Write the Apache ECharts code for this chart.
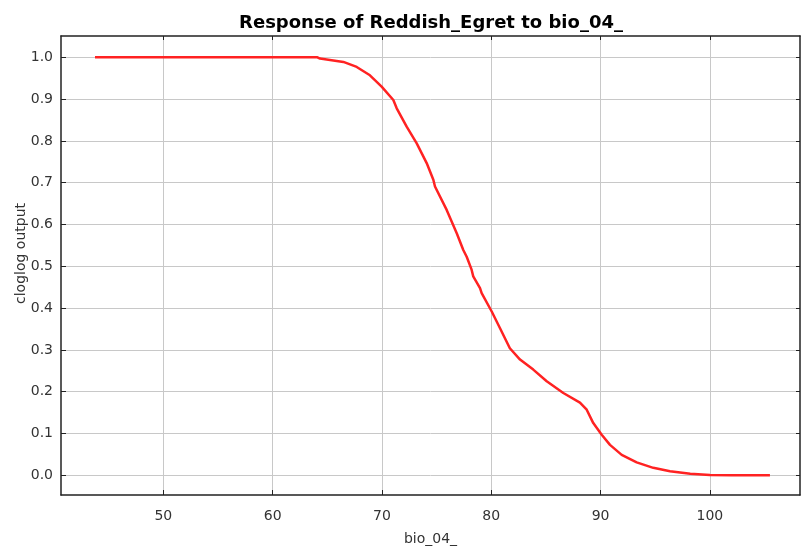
<!DOCTYPE html>
<html><head><meta charset="utf-8">
<script src="https://cdn.jsdelivr.net/npm/echarts@6/dist/echarts.min.js"></script>
<style>html,body{margin:0;padding:0;background:#fff}#c{width:801px;height:548px}</style>
</head><body><div id="c"></div>
<script>
var titleText = "Response of Reddish_Egret to bio_04_";
var xName = "bio_04_";
var yName = "cloglog output";
var xTicks = [50, 60, 70, 80, 90, 100];
var yTicks = [0, 0.1, 0.2, 0.3, 0.4, 0.5, 0.6, 0.7, 0.8, 0.9, 1.0];
var bioX = [43.75, 50, 55, 60, 62.5, 64.1, 64.33, 66.47, 67.69, 68.9, 69.97, 71.04, 71.35, 72.26, 73.18, 74.09, 74.7, 74.85, 75.92, 76.84, 77.44, 77.75, 78.2, 78.35, 78.97, 79.12, 80.04, 80.8, 81.7, 82.63, 83.84, 85.07, 86.59, 88.11, 88.73, 89.33, 90.1, 90.86, 91.93, 93.3, 94.82, 96.35, 98.2, 100, 102, 105.49];
var outY = [1.0, 1.0, 1.0, 1.0, 1.0, 1.0, 0.997, 0.989, 0.977, 0.957, 0.93, 0.898, 0.878, 0.834, 0.794, 0.747, 0.707, 0.691, 0.635, 0.579, 0.539, 0.523, 0.492, 0.476, 0.448, 0.436, 0.392, 0.352, 0.304, 0.277, 0.253, 0.225, 0.197, 0.174, 0.157, 0.125, 0.097, 0.073, 0.049, 0.031, 0.018, 0.010, 0.004, 0.001, 0.0, 0.0];

var pts = bioX.map(function (x, i) { return [x, outY[i]]; });
var fam = "DejaVu Sans";
var xmin = 40.64, xmax = 108.24, ymin = -0.047, ymax = 1.051;
var gridLine = { show: true, lineStyle: { color: '#c8c8c8', width: 1 } };
var axLine = { show: true, onZero: false, lineStyle: { color: '#222', width: 1.5 } };
var chart = echarts.init(document.getElementById('c'));
chart.setOption({
  animation: false,
  title: { text: titleText, left: 426, textAlign: 'center', top: 9,
    textStyle: { fontFamily: fam, fontWeight: 'bold', fontSize: 18, color: '#000' } },
  grid: { left: 61, right: 1, top: 36, bottom: 53, containLabel: false, outerBoundsMode: 'none' },
  xAxis: [{
    type: 'value', position: 'bottom', min: xmin, max: xmax,
    name: xName, nameLocation: 'middle', nameGap: 37, nameMoveOverlap: false,
    nameTextStyle: { fontFamily: fam, fontSize: 14, color: '#333' },
    axisLine: axLine,
    axisTick: { show: true, inside: true, length: 5, customValues: xTicks, lineStyle: { color: '#222' } },
    axisLabel: { customValues: xTicks, margin: 14, fontFamily: fam, fontSize: 14, color: '#333' },
    splitLine: gridLine
  }, {
    type: 'value', position: 'top', min: xmin, max: xmax,
    axisLine: axLine,
    axisTick: { show: true, inside: true, length: 4, customValues: xTicks, lineStyle: { color: '#222' } },
    axisLabel: { show: false, customValues: xTicks },
    splitLine: { show: false }
  }],
  yAxis: [{
    type: 'value', position: 'left', min: ymin, max: ymax,
    name: yName, nameLocation: 'middle', nameGap: 33, nameMoveOverlap: false,
    nameTextStyle: { fontFamily: fam, fontSize: 14, color: '#333', padding: [0, 0, 0, 24] },
    axisLine: axLine,
    axisTick: { show: true, inside: true, length: 5, customValues: yTicks, lineStyle: { color: '#222' } },
    axisLabel: { customValues: yTicks, margin: 8, fontFamily: fam, fontSize: 14, color: '#333',
      formatter: function (v) { return v.toFixed(1); } },
    splitLine: gridLine
  }, {
    type: 'value', position: 'right', min: ymin, max: ymax,
    axisLine: axLine,
    axisTick: { show: true, inside: true, length: 4, customValues: yTicks, lineStyle: { color: '#222' } },
    axisLabel: { show: false, customValues: yTicks },
    splitLine: { show: false }
  }],
  series: [{
    type: 'line', data: pts, xAxisIndex: 0, yAxisIndex: 0,
    showSymbol: false, smooth: false,
    lineStyle: { color: '#ff2222', width: 2.5 }
  }]
});
</script></body></html>
